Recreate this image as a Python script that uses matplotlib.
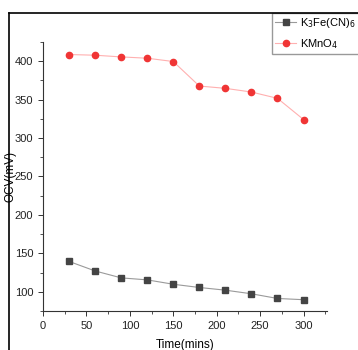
import matplotlib
matplotlib.use('Agg')
import matplotlib.pyplot as plt
from matplotlib.lines import Line2D
from matplotlib.ticker import MultipleLocator

plt.rcParams['font.family'] = ['Liberation Sans', 'DejaVu Sans']

# -- data -- #
time_mins = [30, 60, 90, 120, 150, 180, 210, 240, 270, 300]
ferri_ocv = [139.5, 127.1, 118.1, 115.5, 109.8, 105.6, 102.1, 97.4, 91.3, 89.7]
kmno4_ocv = [408.7, 407.8, 405.6, 403.9, 399.6, 367.7, 364.7, 359.9, 351.7, 324.1]

W, H = 358, 350
fig = plt.figure(figsize=(W / 100, H / 100), dpi=100)
ax = fig.add_axes([43 / W, 1 - 311 / H, (327 - 43) / W, (311 - 42) / H])

ax.plot(
    time_mins, ferri_ocv,
    color           = '#9a9a9a',
    linewidth       = 0.8,
    marker          = 's',
    markersize      = 4.5,
    markerfacecolor = '#444444',
    markeredgecolor = '#444444',
    label           = r'K$_3$Fe(CN)$_6$',
)
ax.plot(
    time_mins, kmno4_ocv,
    color           = '#ffb0b0',
    linewidth       = 0.8,
    marker          = 'o',
    markersize      = 4.5,
    markerfacecolor = '#f03535',
    markeredgecolor = '#f03535',
    label           = r'KMnO$_4$',
)

ax.set_xlim(0, 327)
ax.set_ylim(75, 425)
ax.xaxis.set_major_locator(MultipleLocator(50))
ax.xaxis.set_minor_locator(MultipleLocator(25))
ax.yaxis.set_major_locator(MultipleLocator(50))
ax.yaxis.set_minor_locator(MultipleLocator(25))
ax.set_yticks([100, 150, 200, 250, 300, 350, 400])

for side in ('top', 'right'):
    ax.spines[side].set_visible(False)
for side in ('left', 'bottom'):
    ax.spines[side].set_linewidth(0.8)
    ax.spines[side].set_color('#333333')

ax.tick_params(which='major', direction='out', length=3.5, width=0.7,
               labelsize=8, colors='#333333', labelcolor='#222222')
ax.tick_params(which='minor', direction='out', length=2, width=0.6,
               colors='#333333')

ax.set_xlabel('Time(mins)', fontsize=8.5, labelpad=6)
ax.set_ylabel('OCV(mV)', fontsize=8.5)
ax.yaxis.set_label_coords(-0.095, 0.5)

# outer frame lines
fig.add_artist(Line2D([9 / W, 9 / W], [0, 1 - 13 / H], color='black',
                      linewidth=1.2, transform=fig.transFigure))
fig.add_artist(Line2D([9 / W, 1], [1 - 13 / H, 1 - 13 / H], color='black',
                      linewidth=1.2, transform=fig.transFigure))

ax.legend(
    loc            = 'upper left',
    bbox_to_anchor = (272 / W, 1 - 13 / H),
    bbox_transform = fig.transFigure,
    borderaxespad  = 0,
    fancybox       = False,
    edgecolor      = '#999999',
    fontsize       = 8,
    handlelength   = 1.9,
    handletextpad  = 0.35,
    borderpad      = 0.3,
    labelspacing   = 0.6,
    framealpha     = 1,
)

plt.savefig('out.png', dpi=100, facecolor='white')
plt.close()
